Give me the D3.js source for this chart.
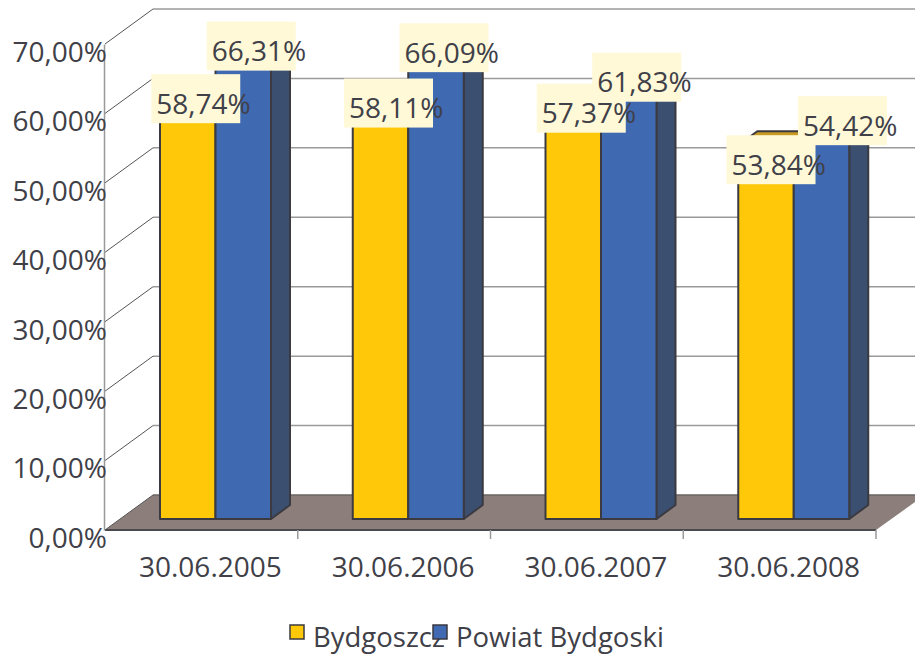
<!DOCTYPE html>
<html>
<head>
<meta charset="utf-8">
<script src="https://cdn.jsdelivr.net/npm/d3@7"></script>
<style>
  html, body { margin: 0; padding: 0; background: #fff; }
  text { font-family: "Open Sans", sans-serif; fill: #404048; }
</style>
</head>
<body>
<div id="chart"></div>
<script>
const categories = ["30.06.2005", "30.06.2006", "30.06.2007", "30.06.2008"];
const seriesNames = ["Bydgoszcz", "Powiat Bydgoski"];
const bydgoszcz = [58.74, 58.11, 57.37, 53.84];
const powiat = [66.31, 66.09, 61.83, 54.42];
const yTicks = [0, 10, 20, 30, 40, 50, 60, 70];

const fmt = v => v.toFixed(2).replace(".", ",") + "%";

const svg = d3.select("#chart")
    .append("svg")
    .attr("width", 915)
    .attr("height", 655)
    .style("display", "block");

// front plane of the 3d box
const xScale = d3.scaleBand().domain(categories).range([105, 876]);
const yScale = d3.scaleLinear().domain([0, 70]).range([530, 44]);
const xInner = d3.scaleBand().domain(seriesNames).range([40, 151]);

// how far back the wall sits, and where the bars sit inside the depth
const wall = { dx: 48, dy: -35 };
const barFront = { dx: 15, dy: -11 };
const barDepth = { dx: 19, dy: -14 };

const colors = { "Bydgoszcz": "#FFC90A", "Powiat Bydgoski": "#3F6AB2" };
const sideColors = { "Bydgoszcz": "#B8920E", "Powiat Bydgoski": "#3B4F70" };
const topColors = { "Bydgoszcz": "#C89A22", "Powiat Bydgoski": "#34558E" };
const outline = "#3A3A40";

// floor
svg.append("path")
    .attr("d", `M${xScale.range()[0]},${yScale(0)} l${wall.dx},${wall.dy} H915 V${yScale(0) + wall.dy + 7} L${xScale.range()[1]},${yScale(0)} Z`)
    .attr("fill", "#8C7F7B");
svg.append("line")
    .attr("x1", xScale.range()[0]).attr("x2", xScale.range()[1])
    .attr("y1", yScale(0)).attr("y2", yScale(0))
    .attr("stroke", "#4A4A4E").attr("stroke-width", 2);

// wall grid
yTicks.forEach(t => {
    const y = yScale(t);
    svg.append("line")
        .attr("x1", 105).attr("y1", y)
        .attr("x2", 105 + wall.dx).attr("y2", y + wall.dy)
        .attr("stroke", "#555").attr("stroke-width", 1);
    svg.append("line")
        .attr("x1", 105 + wall.dx).attr("y1", y + wall.dy)
        .attr("x2", 915).attr("y2", y + wall.dy)
        .attr("stroke", t === 0 ? "#6A6462" : "#9A9A9A")
        .attr("stroke-width", t === 0 ? 1.5 : 1.5);
});

// axes
const yAxis = svg.append("g")
    .attr("transform", "translate(104,0)")
    .call(d3.axisLeft(yScale).tickValues(yTicks).tickFormat(fmt).tickSize(0).tickPadding(-3));
yAxis.select(".domain").attr("stroke", "#999").attr("stroke-width", 1.5);
yAxis.selectAll("text").attr("dy", "0.62em").style("font-size", "28px").attr("fill", null);

const xAxis = svg.append("g")
    .attr("transform", `translate(9,${yScale(0)})`)
    .call(d3.axisBottom(xScale).tickSize(0).tickPadding(27));
xAxis.select(".domain").remove();
xAxis.selectAll("text").style("font-size", "28px").attr("fill", null);

// ticks sit between the categories, not on them
svg.append("g")
    .selectAll("line")
    .data(categories)
    .join("line")
    .attr("x1", d => xScale(d) + xScale.step())
    .attr("x2", d => xScale(d) + xScale.step())
    .attr("y1", yScale(0))
    .attr("y2", yScale(0) + 9)
    .attr("stroke", "#999")
    .attr("stroke-width", 1.5);

// bars
const barBase = yScale(0) + barFront.dy;
const barTop = v => yScale(v) + barFront.dy;
const bw = xInner.bandwidth();
const rows = categories.map((c, i) => [
    { cat: c, name: seriesNames[0], value: bydgoszcz[i], idx: i },
    { cat: c, name: seriesNames[1], value: powiat[i], idx: i }
]);

const barG = svg.append("g").attr("stroke", outline).attr("stroke-width", 2).attr("stroke-linejoin", "round");
rows.forEach(pair => {
    pair.forEach(d => {
        const x0 = xScale(d.cat) + xInner(d.name) + barFront.dx;
        const yt = barTop(d.value);
        // right side
        barG.append("path")
            .attr("d", `M${x0 + bw},${barBase} l${barDepth.dx},${barDepth.dy} V${yt + barDepth.dy} L${x0 + bw},${yt} Z`)
            .attr("fill", sideColors[d.name]);
        // top
        barG.append("path")
            .attr("d", `M${x0},${yt} l${barDepth.dx},${barDepth.dy} h${bw} L${x0 + bw},${yt} Z`)
            .attr("fill", topColors[d.name]);
        // front
        barG.append("rect")
            .attr("x", x0).attr("y", yt)
            .attr("width", bw).attr("height", barBase - yt)
            .attr("fill", colors[d.name]);
    });
});

// labels, the last pair was moved by hand in the original
const labelW = 89, labelH = 49;
const labelShift = { "30.06.2008|Bydgoszcz": [-3, 27], "30.06.2008|Powiat Bydgoski": [13, -8] };
const labels = svg.append("g");
rows.flat().forEach(d => {
    const s = labelShift[d.cat + "|" + d.name] || [0, 0];
    const cx = xScale(d.cat) + xInner(d.name) + barFront.dx + bw / 2 + 8 + s[0];
    const cy = barTop(d.value) - 12.5 + s[1];
    labels.append("rect")
        .attr("x", cx - labelW / 2).attr("y", cy - labelH / 2)
        .attr("width", labelW).attr("height", labelH)
        .attr("fill", "#FFF9D8");
    labels.append("text")
        .attr("x", cx - labelW / 2 + 5).attr("y", cy + 15)
        .style("font-size", "28px")
        .text(fmt(d.value));
});

// legend
const legendX = d3.scaleOrdinal().domain(seriesNames).range([290, 433]);
const legend = svg.append("g");
seriesNames.forEach(n => {
    legend.append("rect")
        .attr("x", legendX(n)).attr("y", 625)
        .attr("width", 14).attr("height", 14)
        .attr("fill", colors[n])
        .attr("stroke", outline).attr("stroke-width", 1.5);
    legend.append("text")
        .attr("x", legendX(n) + 23).attr("y", 647)
        .style("font-size", "27.5px")
        .text(n);
});
</script>
</body>
</html>
